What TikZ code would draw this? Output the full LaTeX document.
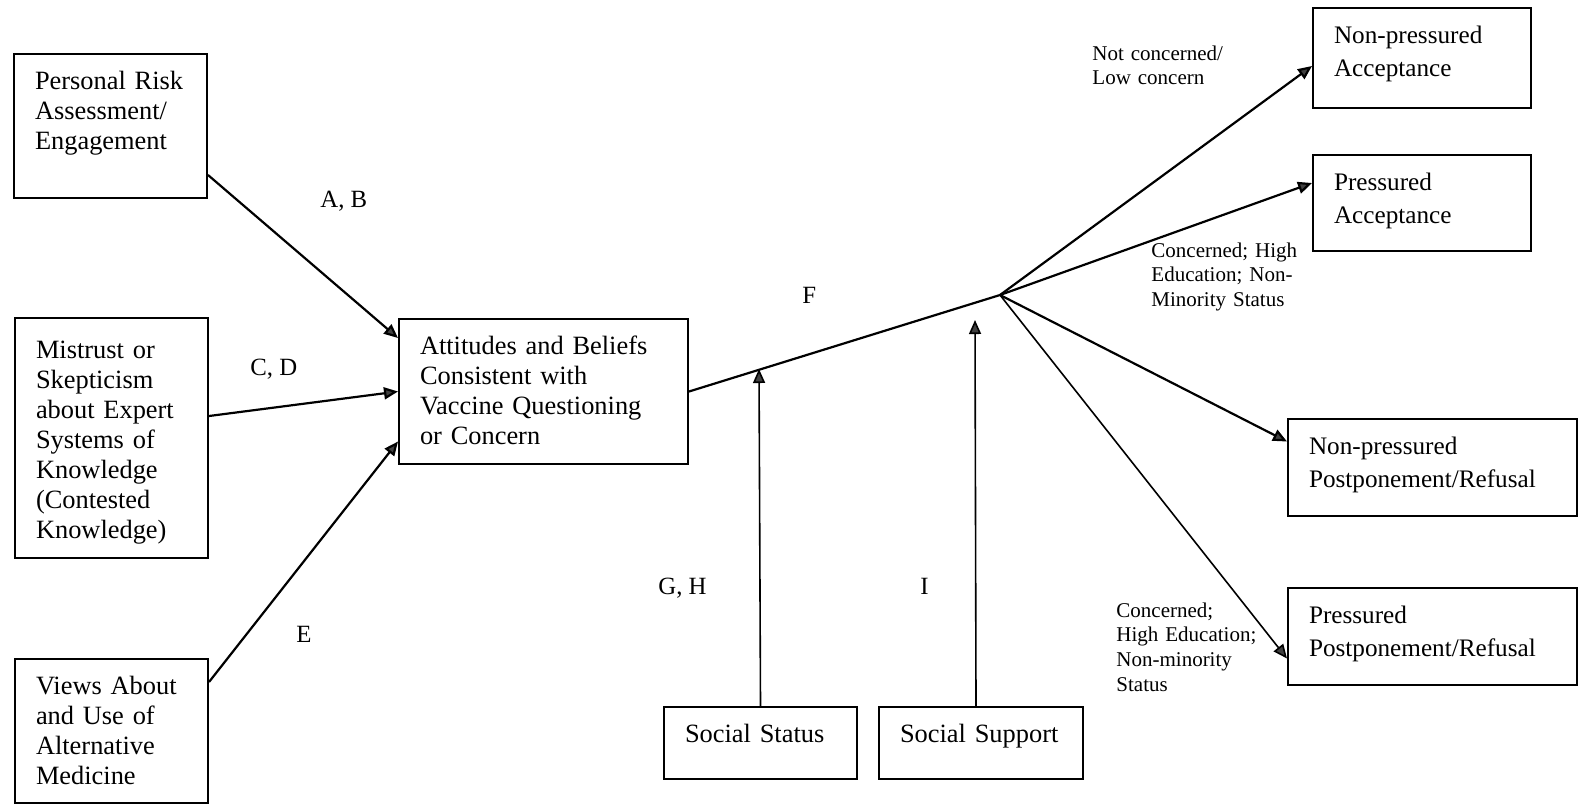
\documentclass[tikz,border=0pt]{standalone}
\usepackage{fontspec}
\setmainfont{Liberation Serif}
\usetikzlibrary{arrows.meta}

\begin{document}
\begin{tikzpicture}[x=0.5pt,y=-0.5pt,
  box/.style={draw,line width=1pt,anchor=north west,align=left,inner xsep=10.5pt,inner ysep=4pt,
    text height=13.5pt,font=\fontsize{13.2}{15}\selectfont},
  outbox/.style={box,font=\fontsize{12.6}{16.5}\selectfont},
  link/.style={line width=1.1pt,-{Triangle[length=7pt,width=6pt,fill=darkgray]}},
  tag/.style={anchor=base west,inner sep=0pt,font=\fontsize{12.4}{14}\selectfont},
  cond/.style={anchor=base west,inner sep=0pt,align=left,text width=80pt,font=\fontsize{10.5}{12.4}\selectfont}]
\useasboundingbox (0,0) rectangle (1582,804);

% influences on attitudes
\node[box,text width=75.5pt,text depth=50.5pt] (risk) at (13,53) {Personal Risk\\Assessment/\\Engagement};
\node[box,text width=75.5pt,text height=16pt,text depth=96pt] (mistrust) at (14,317) {Mistrust or\\Skepticism\\about Expert\\Systems of\\Knowledge\\(Contested\\Knowledge)};
\node[box,text width=75.5pt,text depth=50.5pt] (altmed) at (14,658) {Views About\\and Use of\\Alternative\\Medicine};
\node[box,text width=123.5pt,text depth=51pt] (attitudes) at (398,318) {Attitudes and Beliefs\\Consistent with\\Vaccine Questioning\\or Concern};

% outcomes
\node[outbox,text width=88pt,text depth=28.5pt] (npacc) at (1312,7) {Non-pressured\\Acceptance};
\node[outbox,text width=88pt,text depth=26.5pt] (pacc) at (1312,154) {Pressured\\Acceptance};
\node[outbox,text width=123.5pt,text depth=27pt] (nprefuse) at (1287,418) {Non-pressured\\Postponement/Refusal};
\node[outbox,text width=123.5pt,text depth=27pt] (prefuse) at (1287,587) {Pressured\\Postponement/Refusal};

% moderators
\node[box,text width=75.5pt,text depth=14.5pt] (status) at (663,706) {Social Status};
\node[box,text width=81pt,text depth=14.5pt] (support) at (878,706) {Social Support};

\coordinate (hub) at (1000,295);
\coordinate (statustip) at (759,369);
\coordinate (supporttip) at (975,320);

\draw[link] ([yshift=12pt]risk.south east) -- ([yshift=-10pt]attitudes.north west);
\draw[link] ([yshift=11pt]mistrust.east) -- (attitudes.west);
\draw[link] ([yshift=-12pt]altmed.north east) -- ([yshift=-25pt]attitudes.west);
\draw[line width=1.1pt] (attitudes.east) -- (hub);
\draw[link] (hub) -- ([yshift=-4pt]npacc.west);
\draw[link] (hub) -- ([yshift=10pt]pacc.west);
\draw[link] (hub) -- ([yshift=13pt]nprefuse.west);
\draw[link,line width=0.8pt] (hub) -- ([yshift=-11pt]prefuse.west);
\draw[link,line width=0.8pt] (status.north) -- (statustip);
\draw[link,line width=0.8pt] ([xshift=-2.5pt]support.north) -- (supporttip);

% path labels
\node[tag] (ab) at (320,207) {A, B};
\node[tag] (cd) at (250,375) {C, D};
\node[tag] (e) at (296,642) {E};
\node[tag] (f) at (802,303) {F};
\node[tag] (gh) at (658,594) {G, H};
\node[tag] (i) at (920,594) {I};
\node[cond] (lowconcern) at (1092,60) {Not concerned/\\Low concern};
\node[cond] (higheduA) at (1151,257) {Concerned; High\\Education; Non-\\Minority Status};
\node[cond] (higheduB) at (1116,617) {Concerned;\\High Education;\\Non-minority\\Status};
\end{tikzpicture}
\end{document}
